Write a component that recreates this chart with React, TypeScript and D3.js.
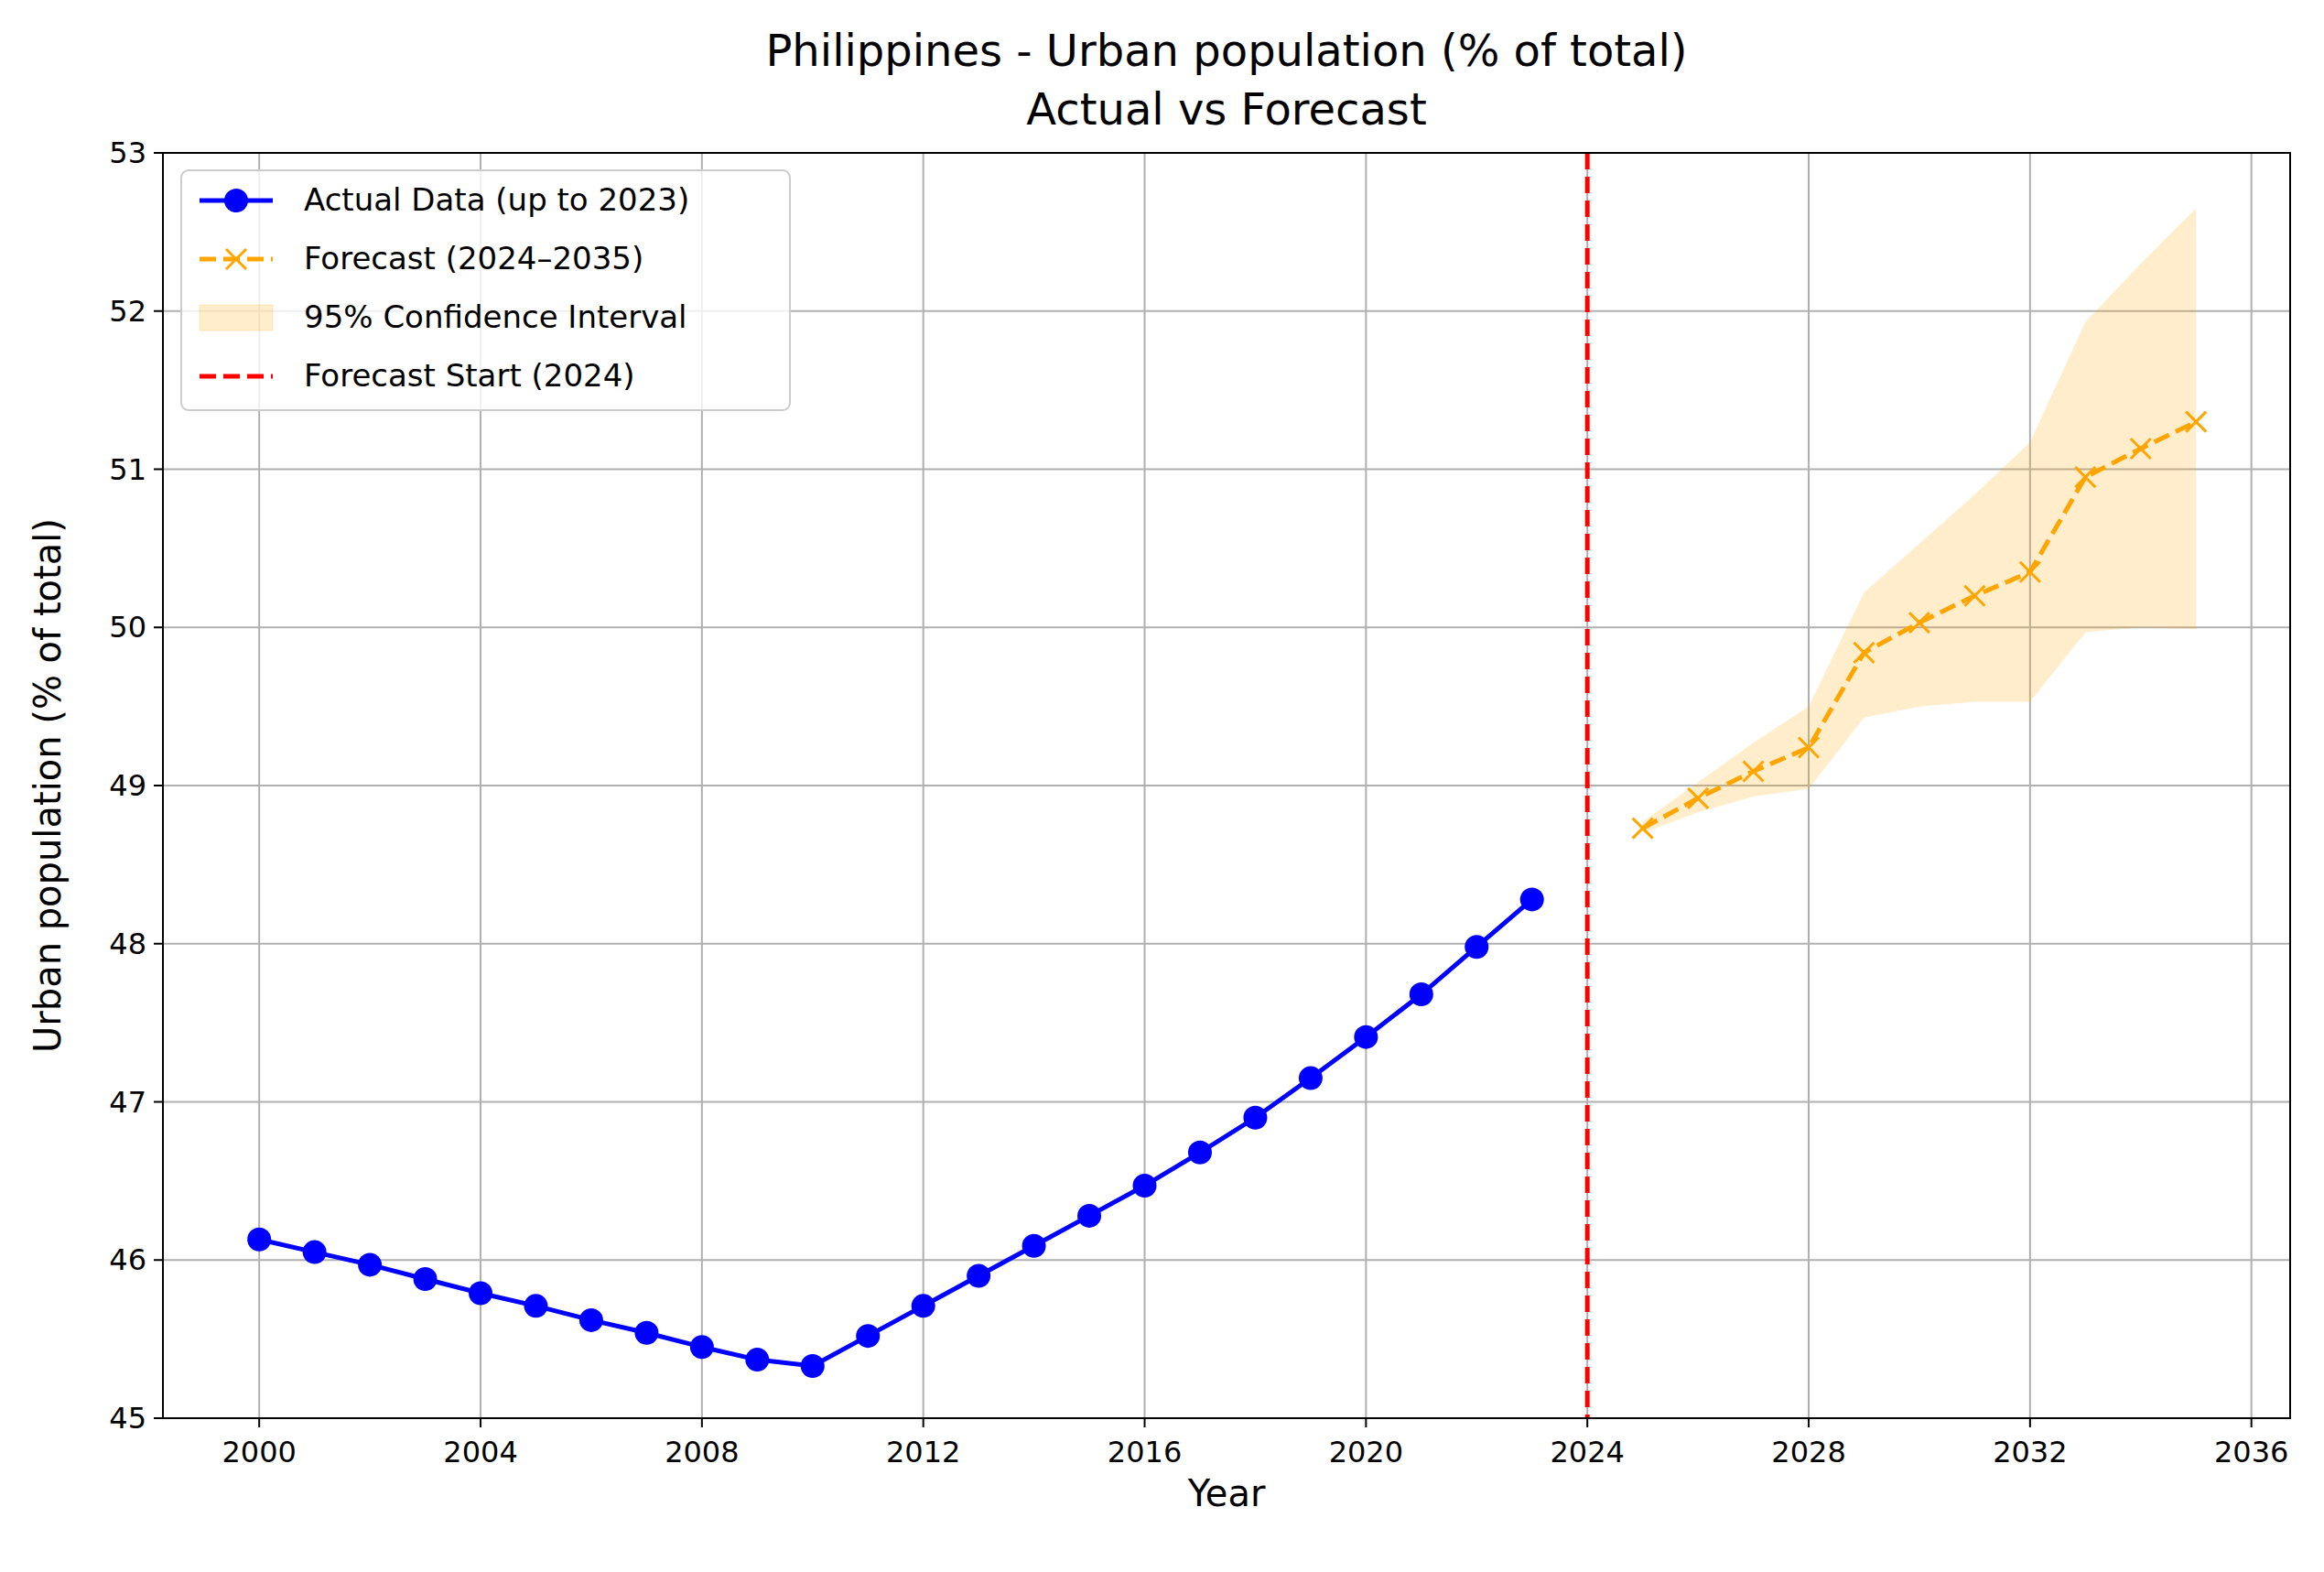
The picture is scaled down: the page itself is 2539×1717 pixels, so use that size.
import React from "react";
import * as d3 from "d3";

const actualYears = d3.range(2000, 2024);
const actualValues = [46.13,46.05,45.97,45.88,45.79,45.71,45.62,45.54,45.45,45.37,45.33,45.52,45.71,45.90,46.09,46.28,46.47,46.68,46.90,47.15,47.41,47.68,47.98,48.28];
const fcYears = d3.range(2025, 2036);
const fcValues = [48.73,48.92,49.09,49.24,49.84,50.03,50.20,50.35,50.95,51.13,51.30];
const ciLower = [48.70,48.83,48.93,48.98,49.43,49.50,49.53,49.53,49.97,50.00,49.99];
const ciUpper = [48.77,49.02,49.27,49.50,50.22,50.53,50.84,51.17,51.93,52.30,52.65];
const xTicks = [2000,2004,2008,2012,2016,2020,2024,2028,2032,2036];
const yTicks = [45,46,47,48,49,50,51,52,53];

export default function App() {
  const W = 2539, H = 1717;
  const L = 178, R = 2502, T = 167, B = 1549;
  const x = d3.scaleLinear().domain([1998.26, 2036.7]).range([L, R]);
  const y = d3.scaleLinear().domain([45, 53]).range([B, T]);
  const line = d3.line<[number, number]>().x(d => x(d[0])).y(d => y(d[1]));
  const area = d3.area<number>().x((_, i) => x(fcYears[i])).y0((_, i) => y(ciLower[i])).y1((_, i) => y(ciUpper[i]));
  const font = "DejaVu Sans";
  const a = actualYears.map((yr, i) => [yr, actualValues[i]] as [number, number]);
  const f = fcYears.map((yr, i) => [yr, fcValues[i]] as [number, number]);
  const dash = "18,8";
  return (
    <svg width={W} height={H} style={{ display: "block", position: "absolute", left: 0, top: 0 }} fontFamily={font}>
      <rect width={W} height={H} fill="white" />
      {xTicks.map(t => <line key={"gx"+t} x1={x(t)} x2={x(t)} y1={T} y2={B} stroke="#b0b0b0" strokeWidth={2} />)}
      {yTicks.map(t => <line key={"gy"+t} x1={L} x2={R} y1={y(t)} y2={y(t)} stroke="#b0b0b0" strokeWidth={2} />)}
      <path d={area(fcValues)!} fill="orange" fillOpacity={0.2} />
      <line x1={x(2024)} x2={x(2024)} y1={T} y2={B} stroke="red" strokeWidth={5} strokeDasharray={dash} />
      <path d={line(a)!} fill="none" stroke="blue" strokeWidth={5} />
      {a.map((d, i) => <circle key={i} cx={x(d[0])} cy={y(d[1])} r={13} fill="blue" />)}
      <path d={line(f)!} fill="none" stroke="orange" strokeWidth={5} strokeDasharray={dash} />
      {f.map((d, i) => (
        <g key={i} stroke="orange" strokeWidth={3}>
          <line x1={x(d[0])-11} x2={x(d[0])+11} y1={y(d[1])-11} y2={y(d[1])+11} />
          <line x1={x(d[0])-11} x2={x(d[0])+11} y1={y(d[1])+11} y2={y(d[1])-11} />
        </g>
      ))}
      <rect x={L} y={T} width={R-L} height={B-T} fill="none" stroke="black" strokeWidth={2} />
      {xTicks.map(t => (
        <g key={"xt"+t}>
          <line x1={x(t)} x2={x(t)} y1={B} y2={B+10} stroke="black" strokeWidth={2} />
          <text x={x(t)} y={B+48} fontSize={32} textAnchor="middle">{t}</text>
        </g>
      ))}
      {yTicks.map(t => (
        <g key={"yt"+t}>
          <line x1={L-10} x2={L} y1={y(t)} y2={y(t)} stroke="black" strokeWidth={2} />
          <text x={L-18} y={y(t)+11} fontSize={32} textAnchor="end">{t}</text>
        </g>
      ))}
      <text x={(L+R)/2} y={1645} fontSize={40} textAnchor="middle">Year</text>
      <text transform={`translate(66,${(T+B)/2}) rotate(-90)`} fontSize={40} textAnchor="middle">Urban population (% of total)</text>
      <text x={(L+R)/2} y={72} fontSize={48} textAnchor="middle">Philippines - Urban population (% of total)</text>
      <text x={(L+R)/2} y={136} fontSize={48} textAnchor="middle">Actual vs Forecast</text>
      <g>
        <rect x={198} y={186} width={665} height={262} rx={8} fill="white" fillOpacity={0.8} stroke="#cccccc" strokeWidth={2} />
        <line x1={218} x2={298} y1={219} y2={219} stroke="blue" strokeWidth={5} />
        <circle cx={258} cy={219} r={13} fill="blue" />
        <text x={332} y={230} fontSize={34}>Actual Data (up to 2023)</text>
        <line x1={218} x2={298} y1={283} y2={283} stroke="orange" strokeWidth={5} strokeDasharray={dash} />
        <g stroke="orange" strokeWidth={3}>
          <line x1={247} x2={269} y1={272} y2={294} /><line x1={247} x2={269} y1={294} y2={272} />
        </g>
        <text x={332} y={294} fontSize={34}>Forecast (2024–2035)</text>
        <rect x={218} y={333} width={80} height={28} fill="orange" fillOpacity={0.2} stroke="orange" strokeOpacity={0.2} />
        <text x={332} y={358} fontSize={34}>95% Confidence Interval</text>
        <line x1={218} x2={298} y1={411} y2={411} stroke="red" strokeWidth={5} strokeDasharray={dash} />
        <text x={332} y={422} fontSize={34}>Forecast Start (2024)</text>
      </g>
    </svg>
  );
}
